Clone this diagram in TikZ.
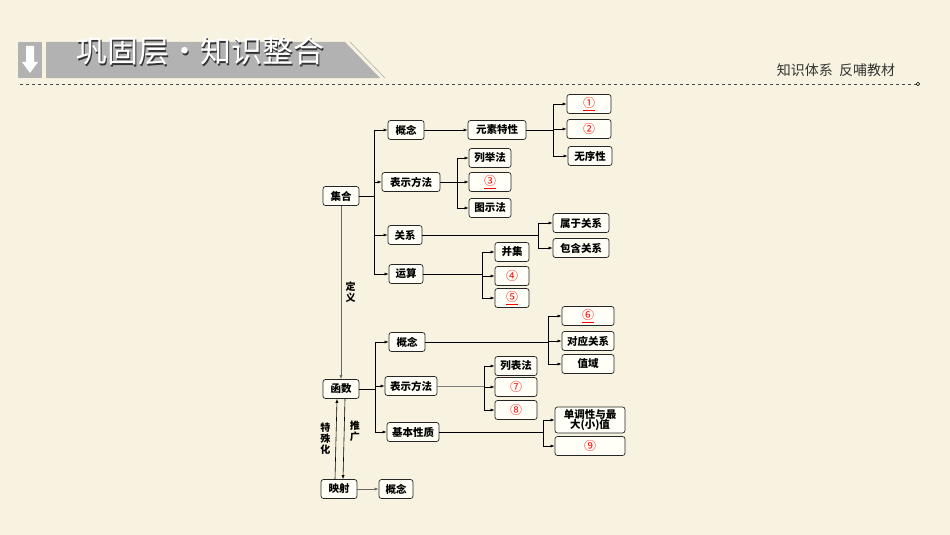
\documentclass[tikz,border=0pt]{standalone}
\usepackage{fontspec}
\setmainfont{Noto Sans CJK SC}
\usetikzlibrary{positioning,arrows.meta}

\begin{document}
\begin{tikzpicture}[x=1pt,y=-1pt,
  box/.style={draw=black!85,rounded corners=2.5pt,fill=white!60!yellow!8,line width=0.7pt,
    inner sep=1.5pt,minimum height=19pt,font=\fontsize{10.5}{11}\selectfont\bfseries},
  blank/.style={box,text=red,font=\fontsize{12}{12}\selectfont},
  arr/.style={-{Latex[length=4pt,width=3pt]},line width=0.6pt},
  link/.style={line width=0.6pt},
  vlabel/.style={align=center,font=\fontsize{10}{11}\selectfont\bfseries}]
\definecolor{bgColor}{RGB}{248,243,224}
\definecolor{bannerColor}{RGB}{178,178,178}
\fill[bgColor] (0,0) rectangle (950,535);
\useasboundingbox (0,0) rectangle (950,535);

% header
\fill[bannerColor] (18,42) rectangle (42,78);
\fill[white] (26,46) -- (34,46) -- (34,62) -- (38,62) -- (30,73) -- (22,62) -- (26,62) -- cycle;
\fill[bannerColor] (46,42) -- (345,42) -- (380,78) -- (46,78) -- cycle;
\draw[gray!70,line width=0.5pt] (350,42) -- (385,78);
\node[font=\fontsize{31}{31}\selectfont,text=black!80] (titleshade) at (201.5,52.5) {巩固层·知识整合};
\node[font=\fontsize{31}{31}\selectfont,text=white] (title) at (200,51) {巩固层·知识整合};
\node[font=\fontsize{14}{14}\selectfont,text=black!80] (subtitle) at (836,70) {知识体系\ \ 反哺教材};
\coordinate (hl) at (20,84);
\coordinate (hr) at (918,84);
\draw[dashed,black!70,line width=0.6pt] (hl) -- (hr);
\node[draw,circle,inner sep=1.3pt,line width=0.5pt] (hend) at (hr) {};

% sets
\node[box,minimum width=36pt] (set) at (341,196) {集合};
\node[box,minimum width=36pt] (sc) at (406,130) {概念};
\node[box,minimum width=58pt] (feat) at (497,130) {元素特性};
\node[blank,minimum width=44pt] (n1) at (589,104) {\underline{①}};
\node[blank,minimum width=44pt] (n2) at (589,129) {②};
\node[box,minimum width=44pt] (nord) at (590,156) {无序性};
\node[box,minimum width=58pt] (srep) at (411,182) {表示方法};
\node[box,minimum width=42pt] (list) at (490,158) {列举法};
\node[blank,minimum width=42pt] (n3) at (490,182) {\underline{③}};
\node[box,minimum width=42pt] (venn) at (490,208) {图示法};
\node[box,minimum width=34pt] (srel) at (405,235) {关系};
\node[box,minimum width=56pt] (belong) at (581,223) {属于关系};
\node[box,minimum width=56pt] (incl) at (581,248) {包含关系};
\node[box,minimum width=34pt] (sop) at (406,274) {运算};
\node[box,minimum width=34pt] (union) at (512,252) {并集};
\node[blank,minimum width=34pt] (n4) at (512,276) {④};
\node[blank,minimum width=34pt] (n5) at (512,298) {\underline{⑤}};

% functions
\node[box,minimum width=36pt] (func) at (341,389) {函数};
\node[box,minimum width=36pt] (fc) at (407,342) {概念};
\node[box,minimum width=52pt] (frep) at (411,386) {表示方法};
\node[box,minimum width=52pt] (fprop) at (413,432) {基本性质};
\node[blank,minimum width=52pt] (n6) at (588,316) {\underline{⑥}};
\node[box,minimum width=52pt] (corr) at (588,341) {对应关系};
\node[box,minimum width=52pt] (range) at (588,364) {值域};
\node[box,minimum width=42pt] (table) at (516,366) {列表法};
\node[blank,minimum width=42pt] (n7) at (516,387) {⑦};
\node[blank,minimum width=42pt] (n8) at (516,410) {⑧};
\node[box,minimum width=70pt,minimum height=26pt,align=center,inner sep=1pt,font=\fontsize{10.5}{10.5}\selectfont\bfseries] (mono) at (590,420) {单调性与最\\大(小)值};
\node[blank,minimum width=70pt] (n9) at (590,446) {⑨};
\node[box,minimum width=36pt] (map) at (339,489) {映射};
\node[box,minimum width=34pt] (mc) at (396,489) {概念};

% junctions
\coordinate (j1) at (374,196);
\coordinate (j2) at (553,130);
\coordinate (j3) at (457,182);
\coordinate (j4) at (538,235);
\coordinate (j5) at (482,274);
\coordinate (j6) at (375,389);
\coordinate (j7) at (548,342);
\coordinate (j8) at (484,386);
\coordinate (j9) at (543,432);

\draw[link] (set) -- (j1);
\foreach \t in {sc,srep,srel,sop} \draw[arr] (j1) |- (\t);
\draw[arr] (sc) -- (feat);
\draw[link] (feat) -- (j2);
\foreach \t in {n1,n2,nord} \draw[arr] (j2) |- (\t);
\draw[link] (srep) -- (j3);
\foreach \t in {list,n3,venn} \draw[arr] (j3) |- (\t);
\draw[link] (srel) -- (j4);
\foreach \t in {belong,incl} \draw[arr] (j4) |- (\t);
\draw[link] (sop) -- (j5);
\foreach \t in {union,n4,n5} \draw[arr] (j5) |- (\t);

\draw[link] (func) -- (j6);
\foreach \t in {fc,frep,fprop} \draw[arr] (j6) |- (\t);
\draw[link] (fc) -- (j7);
\foreach \t in {n6,corr,range} \draw[arr] (j7) |- (\t);
\draw[link,black!50] (frep) -- (j8);
\foreach \t in {table,n7,n8} \draw[arr] (j8) |- (\t);
\draw[link] (fprop) -- (j9);
\foreach \t in {mono,n9} \draw[arr] (j9) |- (\t);

\draw[arr,black!60] (set) -- (func) node[pos=0.5,right=1pt,vlabel,text=black] (def) {定\\义};
\draw[arr] ([xshift=-4pt]map.north) -- ([xshift=-4pt]func.south) node[pos=0.5,left=2pt,vlabel] (spec) {特\\殊\\化};
\draw[arr] ([xshift=4pt]func.south) -- ([xshift=4pt]map.north) node[pos=0.4,right=2pt,vlabel] (gen) {推\\广};
\draw[arr,black!60] (map) -- (mc);
\end{tikzpicture}
\end{document}
